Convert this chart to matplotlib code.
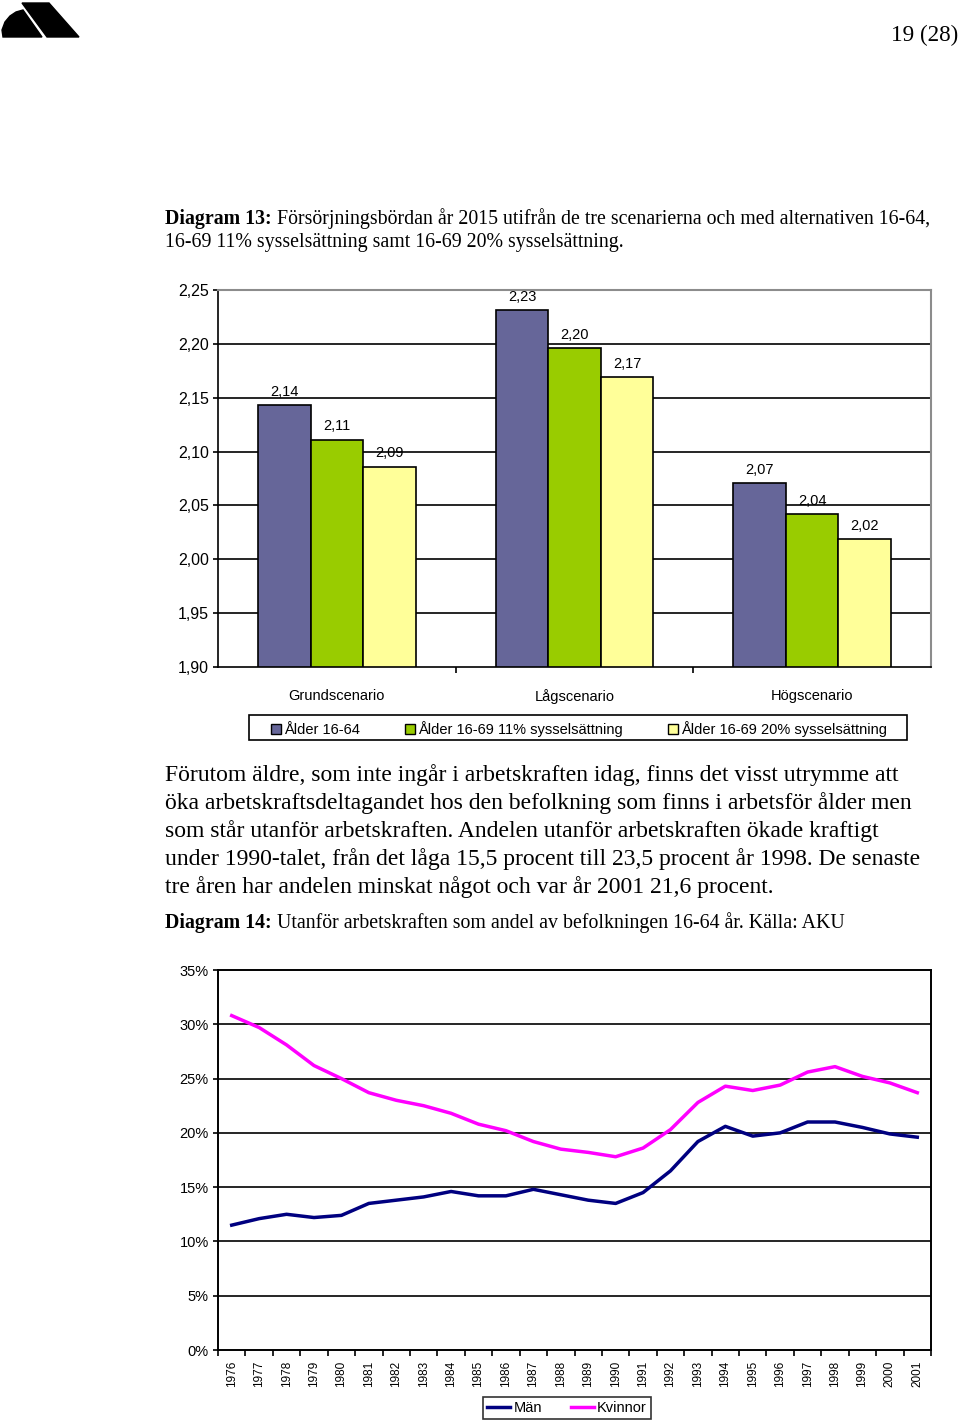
import matplotlib
matplotlib.use("Agg")
import matplotlib.pyplot as plt
import numpy as np
from matplotlib.patches import Polygon, Patch, Rectangle
from matplotlib.lines import Line2D
from matplotlib.ticker import FixedLocator, FuncFormatter

# ---------------- data ----------------
scenarios = ["Grundscenario", "Lågscenario", "Högscenario"]
bar_series = ["Ålder 16-64", "Ålder 16-69 11% sysselsättning", "Ålder 16-69 20% sysselsättning"]
alder_16_64 = [2.143, 2.231, 2.071]
alder_16_69_11 = [2.111, 2.196, 2.042]
alder_16_69_20 = [2.086, 2.169, 2.019]
bar_yticks = [1.90, 1.95, 2.00, 2.05, 2.10, 2.15, 2.20, 2.25]

years = [1976, 1977, 1978, 1979, 1980, 1981, 1982, 1983, 1984, 1985, 1986, 1987, 1988,
         1989, 1990, 1991, 1992, 1993, 1994, 1995, 1996, 1997, 1998, 1999, 2000, 2001]
man = [11.5, 12.1, 12.5, 12.2, 12.4, 13.5, 13.8, 14.1, 14.6, 14.2, 14.2, 14.8, 14.3,
       13.8, 13.5, 14.5, 16.5, 19.2, 20.6, 19.7, 20.0, 21.0, 21.0, 20.5, 19.9, 19.6]
kvinnor = [30.8, 29.7, 28.1, 26.2, 25.0, 23.7, 23.0, 22.5, 21.8, 20.8, 20.2, 19.2, 18.5,
           18.2, 17.8, 18.6, 20.3, 22.8, 24.3, 23.9, 24.4, 25.6, 26.1, 25.2, 24.6, 23.7]
line_yticks = [0, 5, 10, 15, 20, 25, 30, 35]

caption13_bold = "Diagram 13:"
caption13_rest = [" Försörjningsbördan år 2015 utifrån de tre scenarierna och med alternativen 16-64,",
                  "16-69 11% sysselsättning samt 16-69 20% sysselsättning."]
paragraph = ["Förutom äldre, som inte ingår i arbetskraften idag, finns det visst utrymme att",
             "öka arbetskraftsdeltagandet hos den befolkning som finns i arbetsför ålder men",
             "som står utanför arbetskraften. Andelen utanför arbetskraften ökade kraftigt",
             "under 1990-talet, från det låga 15,5 procent till 23,5 procent år 1998. De senaste",
             "tre åren har andelen minskat något och var år 2001 21,6 procent."]
caption14_bold = "Diagram 14:"
caption14_rest = " Utanför arbetskraften som andel av befolkningen 16-64 år. Källa: AKU"

# ---------------- style ----------------
W, H = 960, 1421
SERIF = ["Liberation Serif", "DejaVu Serif"]
SANS = ["Liberation Sans", "DejaVu Sans"]
plt.rcParams["font.family"] = SANS

fig = plt.figure(figsize=(W / 100, H / 100), dpi=100)
bg = fig.add_axes([0, 0, 1, 1], zorder=-1)
bg.set_xlim(0, W)
bg.set_ylim(H, 0)
bg.axis("off")

# logo
bg.add_patch(Polygon([(3, 37), (2, 30), (5, 22), (10, 16), (16, 12), (23, 10), (42, 37)],
                     closed=True, color="black"))
bg.add_patch(Polygon([(22, 3), (49, 3), (79, 37), (47, 37)], closed=True, color="black"))

# page number
bg.text(958, 41, "19 (28)", family=SERIF, fontsize=16.7, ha="right", va="baseline")

renderer = fig.canvas.get_renderer()


def mixed(x, y, bold, rest, size):
    t = bg.text(x, y, bold, family=SERIF, fontsize=size, fontweight="bold",
                ha="left", va="baseline")
    w = t.get_window_extent(renderer).width
    bg.text(x + w, y, rest, family=SERIF, fontsize=size, ha="left", va="baseline")


mixed(165, 224, caption13_bold, caption13_rest[0], 14.3)
bg.text(165, 247, caption13_rest[1], family=SERIF, fontsize=14.3, ha="left", va="baseline")

for i, line in enumerate(paragraph):
    bg.text(165, 781 + 28 * i, line, family=SERIF, fontsize=17, ha="left", va="baseline")

mixed(165, 928, caption14_bold, caption14_rest, 14.3)


def px_axes(l, t, r, b):
    return fig.add_axes([l / W, 1 - b / H, (r - l) / W, (b - t) / H])


# ---------------- bar chart ----------------
ax1 = px_axes(218, 290, 931, 667)
colors = ["#666699", "#99CC00", "#FFFF99"]
x = np.arange(len(scenarios))
bw = 0.221
for k, (vals, col, lab) in enumerate(zip([alder_16_64, alder_16_69_11, alder_16_69_20],
                                         colors, bar_series)):
    pos = x + (k - 1) * bw
    ax1.bar(pos, np.array(vals) - 1.90, bottom=1.90, width=bw, color=col,
            edgecolor="black", linewidth=1.2, zorder=3, label=lab)
    for p, v in zip(pos, vals):
        ax1.annotate(f"{v:.2f}".replace(".", ","), xy=(p, v), xytext=(0, 4.5),
                     textcoords="offset points", ha="center", va="bottom", fontsize=10.5)

ax1.set_xlim(-0.5, 2.5)
ax1.set_ylim(1.90, 2.25)
ax1.set_yticks(bar_yticks)
ax1.yaxis.set_major_formatter(FuncFormatter(lambda v, p: f"{v:.2f}".replace(".", ",")))
ax1.set_xticks(x)
ax1.set_xticklabels(scenarios, fontsize=10.5)
ax1.xaxis.set_minor_locator(FixedLocator([0.5, 1.5]))
ax1.tick_params(axis="x", which="major", length=0, pad=15.5)
ax1.tick_params(axis="x", which="minor", length=4, width=1.2, direction="out")
ax1.tick_params(axis="y", length=3.6, width=1.2, direction="out", labelsize=11.5, pad=3)
for yv in bar_yticks[1:-1]:
    ax1.axhline(yv, color="black", linewidth=1.2, zorder=1)
for s in ["left", "bottom"]:
    ax1.spines[s].set_linewidth(1.2)
for s in ["top", "right"]:
    ax1.spines[s].set_color("#8c8c8c")
    ax1.spines[s].set_linewidth(1.5)

bg.add_patch(Rectangle((249, 715), 907 - 249, 25, fill=False, edgecolor="black", linewidth=1.2))
handles = [Patch(facecolor=c, edgecolor="black", linewidth=1) for c in colors]
leg1 = fig.legend(handles, bar_series, loc="center", bbox_to_anchor=(579 / W, 1 - 729 / H),
                  ncol=3, fontsize=10.5, frameon=False,
                  handlelength=0.7, handleheight=0.7, handletextpad=0.2, columnspacing=3.1,
                  borderpad=0.25)

# ---------------- line chart ----------------
ax2 = px_axes(218, 970, 931, 1350)
xi = np.arange(len(years))
ax2.plot(xi, np.array(man) / 100, color="#000080", linewidth=2.5, zorder=3, label="Män")
ax2.plot(xi, np.array(kvinnor) / 100, color="#FF00FF", linewidth=2.5, zorder=3, label="Kvinnor")
ax2.set_xlim(-0.5, len(years) - 0.5)
ax2.set_ylim(0, 0.35)
ax2.set_yticks([v / 100 for v in line_yticks])
ax2.yaxis.set_major_formatter(FuncFormatter(lambda v, p: f"{round(v * 100)}%"))
ax2.set_xticks(xi)
ax2.set_xticklabels([str(y) for y in years], rotation=90, fontsize=8.5)
ax2.xaxis.set_minor_locator(FixedLocator(np.arange(-0.5, len(years), 1.0)))
ax2.tick_params(axis="x", which="major", length=0, pad=8)
ax2.tick_params(axis="x", which="minor", length=4, width=1.2, direction="out")
ax2.tick_params(axis="y", length=3.6, width=1.2, direction="out", labelsize=10.5, pad=3)
for yv in line_yticks[1:-1]:
    ax2.axhline(yv / 100, color="black", linewidth=1.2, zorder=1)
for s in ax2.spines.values():
    s.set_linewidth(1.4)

lh = [Line2D([], [], color="#000080", linewidth=2.5), Line2D([], [], color="#FF00FF", linewidth=2.5)]
leg2 = fig.legend(lh, ["Män", "Kvinnor"], loc="center", bbox_to_anchor=(567 / W, 1 - 1408 / H),
                  ncol=2, fontsize=10.5, frameon=True, fancybox=False, edgecolor="black",
                  handlelength=1.6, handletextpad=0.2, columnspacing=2.0, borderpad=0.25)
leg2.get_frame().set_linewidth(1.2)

fig.savefig("out.png", dpi=100)
